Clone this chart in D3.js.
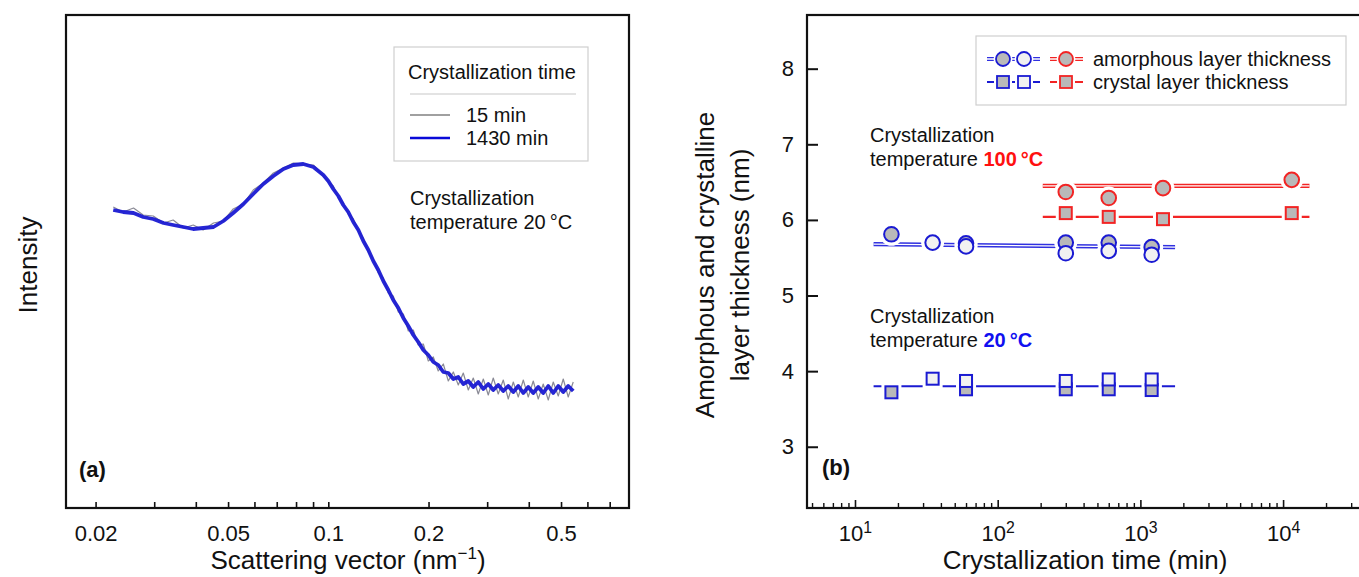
<!DOCTYPE html>
<html><head><meta charset="utf-8">
<script src="https://cdn.jsdelivr.net/npm/d3@7"></script>
<style>body{margin:0;background:#fff} text{font-family:"Liberation Sans",Arial,sans-serif;fill:#111}</style>
</head><body><svg id="c" width="1359" height="577"></svg>
<script>
// ---------- Panel (a) data ----------
const qA = [0.0226,0.0242,0.0260,0.0278,0.0298,0.0320,0.0342,0.0367,0.0393,0.0421,0.0452,0.0484,0.0518,0.0556,0.0595,0.0638,0.0684,0.0733,0.0785,0.0841,0.0902,0.0966,
0.1000,0.1035,0.1072,0.1109,0.1148,0.1189,0.1231,0.1274,0.1319,0.1365,0.1413,0.1463,0.1514,0.1567,0.1623,0.1680,0.1739,0.1800,0.1863,0.1929,0.1997,0.2067,0.2139,0.2215,0.2293,0.2374,0.2457,0.2543,0.2633,0.2725,0.2821,0.2921,0.3023,0.3129,0.3239,0.3353,0.3471,0.3594,0.3720,0.3851,0.3986,0.4126,0.4271,0.4421,0.4577,0.4738,0.4905,0.5077,0.5255,0.5440];
const intensity15 = [301,296,300,293,292,285,288,280,283,278,285,287,299,304,318,325,335,340,345,344,343,332,
326,322,310,305,294,289,277,270,256,249,235,230,215,212,196,194,177,178,163,164,147,151,137,144,127,136,123,135,118,130,114,129,113,130,114,128,109,126,111,128,111,127,109,124,108,126,112,129,111,126];
const intensity1430 = [298,296,295,291,289,285,283,281,279,280,281,287,295,304,314,324,332,339,343,344,341,333,
327,319,312,303,296,286,278,267,258,247,238,227,218,208,200,190,182,173,166,158,153,146,143,136,135,129,131,124,127,121,126,119,124,118,123,117,122,116,122,115,121,115,121,115,122,115,122,116,122,117];
const tickMinorA = [0.02,0.03,0.04,0.05,0.06,0.07,0.08,0.09,0.1,0.2,0.3,0.4,0.5,0.6,0.7];
const tickValuesA = [0.02,0.05,0.1,0.2,0.5];
const tickLabelsA = ["0.02","0.05","0.1","0.2","0.5"];
const legendA = ["15 min","1430 min"];

// ---------- Panel (b) data ----------
const timesFilled20 = [18, 60, 300, 600, 1200];
const amorphFilled20 = [5.81, 5.69, 5.70, 5.70, 5.64];
const crystalFilled20 = [3.72, 3.76, 3.76, 3.76, 3.75];
const timesOpen20 = [35, 60, 300, 600, 1200];
const amorphOpen20 = [5.70, 5.65, 5.56, 5.59, 5.54];
const crystalOpen20 = [3.90, 3.87, 3.87, 3.89, 3.89];
const times100 = [300, 600, 1440, 11500];
const amorph100 = [6.37, 6.29, 6.42, 6.53];
const crystal100 = [6.09, 6.04, 6.01, 6.09];
const lineT20 = [13.5, 1750];
const lineAmorph20 = [5.68, 5.64];
const lineCrystal20 = [3.80, 3.80];
const lineT100 = [207, 15300];
const lineAmorph100 = [6.45, 6.45];
const lineCrystal100 = [6.04, 6.04];
const tickValuesB = [10, 100, 1000, 10000];
const tickExpB = ["1", "2", "3", "4"];
const tickMinorB = [5,6,7,8,9,20,30,40,50,60,70,80,90,200,300,400,500,600,700,800,900,2000,3000,4000,5000,6000,7000,8000,9000,20000,30000];
const yTicksB = [3, 4, 5, 6, 7, 8];
const yTickLabelsB = ["3","4","5","6","7","8"];
const legendB = ["amorphous layer thickness", "crystal layer thickness"];

const BLUE = "#1a1ad2", BLUE2 = "#3030e0", RED = "#f22424", GRAYF = "#b9b9b9", OPENF = "#f1f1f1";
const FS = 20, FT = 22, FX = 26;

const svg = d3.select("#c");

// ================= Panel (a) =================
const xA = d3.scaleLog().domain([0.0163, 0.80]).range([66, 629]);
const yA = d3.scaleLinear().domain([0, 493]).range([508, 15]);
const gA = svg.append("g");
const lineA = arr => d3.line().x((d, i) => xA(qA[i])).y(d => yA(d))(arr);
gA.append("path").attr("d", lineA(intensity15)).attr("fill", "none").attr("stroke", "#8a8a96").attr("stroke-width", 1.2).attr("stroke-linejoin", "round");
gA.append("path").attr("d", lineA(intensity1430)).attr("fill", "none").attr("stroke", BLUE).attr("stroke-width", 3.8).attr("stroke-linejoin", "round").attr("opacity", 0.95);

const axA = d3.axisBottom(xA).tickValues(tickMinorA).tickSize(-6).tickPadding(17)
  .tickFormat(d => { const k = tickValuesA.indexOf(d); return k >= 0 ? tickLabelsA[k] : ""; });
const gAxA = gA.append("g").attr("transform", "translate(0,508)").call(axA);
gAxA.select(".domain").remove();
gAxA.selectAll("line").attr("stroke", "#111").attr("stroke-width", 1.6);
gAxA.selectAll("text").attr("font-size", FT).attr("font-family", "Liberation Sans, Arial, sans-serif").attr("fill", "#111");
gA.append("rect").attr("x", 66).attr("y", 15).attr("width", 563).attr("height", 493).attr("fill", "none").attr("stroke", "#111").attr("stroke-width", 2.2);

// legend a
gA.append("rect").attr("x", 394).attr("y", 47).attr("width", 194).attr("height", 114).attr("fill", "#fff").attr("stroke", "#cfcfcf").attr("stroke-width", 1.2);
gA.append("text").attr("x", 408).attr("y", 79).attr("font-size", FS).text("Crystallization time");
gA.append("line").attr("x1", 410).attr("x2", 576).attr("y1", 94).attr("y2", 94).attr("stroke", "#c8c8c8").attr("stroke-width", 1.2);
gA.append("line").attr("x1", 410).attr("x2", 450).attr("y1", 115).attr("y2", 115).attr("stroke", "#808080").attr("stroke-width", 1.6);
gA.append("line").attr("x1", 410).attr("x2", 450).attr("y1", 138).attr("y2", 138).attr("stroke", "#0a0ad8").attr("stroke-width", 2.4);
gA.append("text").attr("x", 466).attr("y", 122).attr("font-size", FS).text(legendA[0]);
gA.append("text").attr("x", 466).attr("y", 145).attr("font-size", FS).text(legendA[1]);

gA.append("text").attr("x", 410).attr("y", 205).attr("font-size", FS).text("Crystallization");
gA.append("text").attr("x", 410).attr("y", 229).attr("font-size", FS).text("temperature 20\u2009°C");
gA.append("text").attr("x", 79).attr("y", 477).attr("font-size", 22).attr("font-weight", "bold").text("(a)");

gA.append("text").attr("transform", "translate(37,265) rotate(-90)").attr("text-anchor", "middle").attr("font-size", FX).text("Intensity");
const tA = gA.append("text").attr("x", 348).attr("y", 569).attr("text-anchor", "middle").attr("font-size", FX);
tA.append("tspan").text("Scattering vector (nm");
tA.append("tspan").attr("dy", -10).attr("font-size", 17).text("\u22121");
tA.append("tspan").attr("dy", 10).text(")");

// ================= Panel (b) =================
const xB = d3.scaleLog().domain([4.61, 37500]).range([807, 1365]);
const yB = d3.scaleLinear().domain([2.19, 8.71]).range([508, 15]);
const gB = svg.append("g");

// y axis
const axYB = d3.axisLeft(yB).tickValues(yTicksB).tickSize(-11).tickPadding(13)
  .tickFormat((d, i) => yTickLabelsB[i]);
const gAxYB = gB.append("g").attr("transform", "translate(807,0)").call(axYB);
gAxYB.select(".domain").remove();
gAxYB.selectAll("line").attr("stroke", "#111").attr("stroke-width", 2);
gAxYB.selectAll("text").attr("font-size", FT).attr("font-family", "Liberation Sans, Arial, sans-serif").attr("fill", "#111");

// x axis major
const axXB = d3.axisBottom(xB).tickValues(tickValuesB).tickSize(-8).tickPadding(17).tickFormat(() => "");
const gAxXB = gB.append("g").attr("transform", "translate(0,508)").call(axXB);
gAxXB.select(".domain").remove();
gAxXB.selectAll("line").attr("stroke", "#111").attr("stroke-width", 1.6);
gAxXB.selectAll("text").attr("font-size", FT).attr("font-family", "Liberation Sans, Arial, sans-serif").attr("fill", "#111")
  .each(function(d, i) {
    const t = d3.select(this);
    t.append("tspan").text("10");
    t.append("tspan").attr("dy", "-0.45em").attr("font-size", "0.72em").text(tickExpB[i]);
  });
const axXBm = d3.axisBottom(xB).tickValues(tickMinorB).tickSize(-5).tickFormat(() => "");
const gAxXBm = gB.append("g").attr("transform", "translate(0,508)").call(axXBm);
gAxXBm.select(".domain").remove();
gAxXBm.selectAll("line").attr("stroke", "#111").attr("stroke-width", 1.4);

// lines
const lineB = (ts, vs) => d3.line().x((d, i) => xB(ts[i])).y(d => yB(d))(vs);
function doubleLine(ts, vs, color) {
  gB.append("path").attr("d", lineB(ts, vs)).attr("fill", "none").attr("stroke", color).attr("stroke-width", 4.2);
  gB.append("path").attr("d", lineB(ts, vs)).attr("fill", "none").attr("stroke", "#fff").attr("stroke-width", 1.3);
}
function singleLine(ts, vs, color) {
  gB.append("path").attr("d", lineB(ts, vs)).attr("fill", "none").attr("stroke", color).attr("stroke-width", 2.2);
}
doubleLine(lineT100, lineAmorph100, RED);
singleLine(lineT100, lineCrystal100, RED);
doubleLine(lineT20, lineAmorph20, BLUE2);
singleLine(lineT20, lineCrystal20, BLUE);

const haloG = gB.append("g");
const markG = gB.append("g");
function markers(ts, vs, shape, fill, stroke) {
  ts.forEach((t, i) => {
    const cx = xB(t), cy = yB(vs[i]);
    if (shape === "circle") {
      haloG.append("circle").attr("cx", cx).attr("cy", cy).attr("r", 11.5).attr("fill", "#fff");
      markG.append("circle").attr("cx", cx).attr("cy", cy).attr("r", 7.3).attr("fill", fill).attr("stroke", stroke).attr("stroke-width", 2);
    } else {
      haloG.append("rect").attr("x", cx - 10).attr("y", cy - 10).attr("width", 20).attr("height", 20).attr("fill", "#fff");
      markG.append("rect").attr("x", cx - 6).attr("y", cy - 6).attr("width", 12).attr("height", 12).attr("fill", fill).attr("stroke", stroke).attr("stroke-width", 2);
    }
  });
}
markers(times100, amorph100, "circle", GRAYF, RED);
markers(times100, crystal100, "square", GRAYF, RED);
markers(timesFilled20, amorphFilled20, "circle", GRAYF, BLUE);
markers(timesOpen20, amorphOpen20, "circle", OPENF, BLUE);
markers(timesFilled20, crystalFilled20, "square", GRAYF, BLUE);
markers(timesOpen20, crystalOpen20, "square", OPENF, BLUE);

// frame b
gB.append("rect").attr("x", 807).attr("y", 15).attr("width", 600).attr("height", 493).attr("fill", "none").attr("stroke", "#111").attr("stroke-width", 2.2);

// legend b
gB.append("rect").attr("x", 976).attr("y", 36).attr("width", 370).attr("height", 69).attr("fill", "#fff").attr("stroke", "#cfcfcf").attr("stroke-width", 1.2);
function legLine(x1, x2, y, color, dbl) {
  gB.append("line").attr("x1", x1).attr("x2", x2).attr("y1", y).attr("y2", y).attr("stroke", color).attr("stroke-width", dbl ? 4.2 : 2);
  if (dbl) gB.append("line").attr("x1", x1).attr("x2", x2).attr("y1", y).attr("y2", y).attr("stroke", "#fff").attr("stroke-width", 1.3);
}
function legMark(cx, cy, shape, fill, stroke) {
  if (shape === "circle") {
    gB.append("circle").attr("cx", cx).attr("cy", cy).attr("r", 9.5).attr("fill", "#fff");
    gB.append("circle").attr("cx", cx).attr("cy", cy).attr("r", 7).attr("fill", fill).attr("stroke", stroke).attr("stroke-width", 1.8);
  } else {
    gB.append("rect").attr("x", cx - 9).attr("y", cy - 9).attr("width", 18).attr("height", 18).attr("fill", "#fff");
    gB.append("rect").attr("x", cx - 6).attr("y", cy - 6).attr("width", 12).attr("height", 12).attr("fill", fill).attr("stroke", stroke).attr("stroke-width", 1.8);
  }
}
legLine(987, 1040, 59, BLUE2, true); legMark(1003, 59, "circle", GRAYF, BLUE); legMark(1024, 59, "circle", OPENF, BLUE);
legLine(1050, 1083, 59, RED, true); legMark(1066, 59, "circle", GRAYF, RED);
legLine(987, 1040, 82, BLUE, false); legMark(1003, 82, "square", GRAYF, BLUE); legMark(1024, 82, "square", OPENF, BLUE);
legLine(1050, 1083, 82, RED, false); legMark(1066, 82, "square", GRAYF, RED);
gB.append("text").attr("x", 1093).attr("y", 66).attr("font-size", FS).text(legendB[0]);
gB.append("text").attr("x", 1093).attr("y", 89).attr("font-size", FS).text(legendB[1]);

// annotations b
gB.append("text").attr("x", 870).attr("y", 142).attr("font-size", FS).text("Crystallization");
const a1 = gB.append("text").attr("x", 870).attr("y", 166).attr("font-size", FS);
a1.append("tspan").text("temperature ");
a1.append("tspan").attr("font-weight", "bold").style("fill", "#ff1010").text("100\u2009°C");
gB.append("text").attr("x", 870).attr("y", 323).attr("font-size", FS).text("Crystallization");
const a2 = gB.append("text").attr("x", 870).attr("y", 347).attr("font-size", FS);
a2.append("tspan").text("temperature ");
a2.append("tspan").attr("font-weight", "bold").style("fill", "#1010f0").text("20\u2009°C");
gB.append("text").attr("x", 822).attr("y", 475).attr("font-size", 22).attr("font-weight", "bold").text("(b)");

gB.append("text").attr("transform", "translate(714,265) rotate(-90)").attr("text-anchor", "middle").attr("font-size", FX).text("Amorphous and crystalline");
gB.append("text").attr("transform", "translate(749,265) rotate(-90)").attr("text-anchor", "middle").attr("font-size", FX).text("layer thickness (nm)");
gB.append("text").attr("x", 1085).attr("y", 569).attr("text-anchor", "middle").attr("font-size", FX).text("Crystallization time (min)");
</script></body></html>
